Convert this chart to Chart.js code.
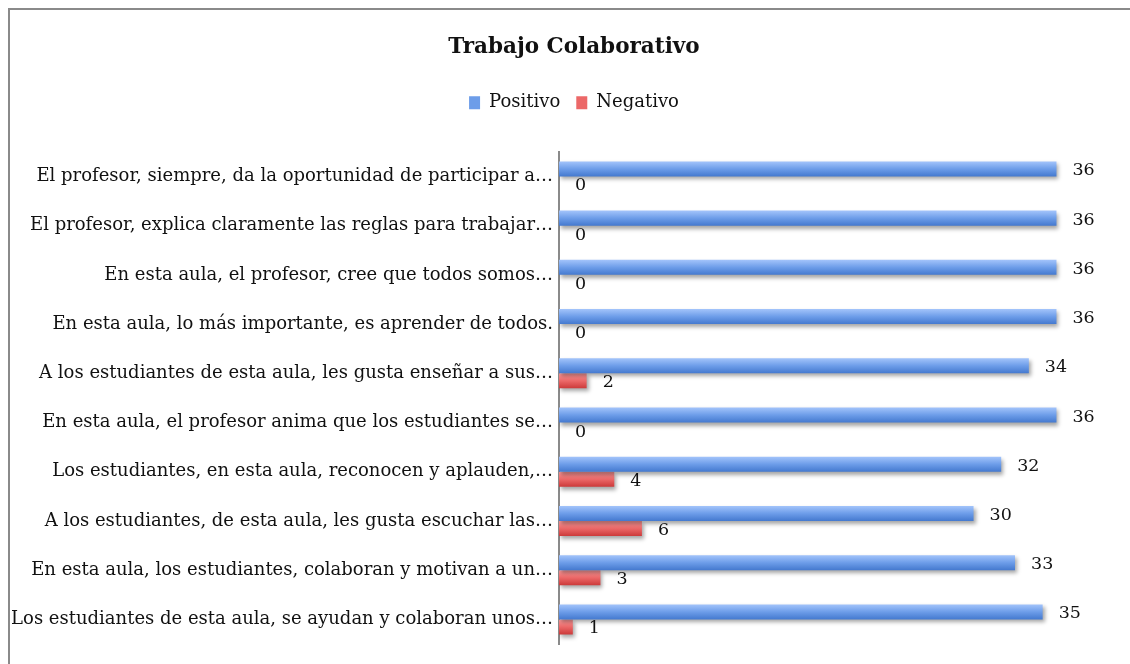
<!DOCTYPE html>
<html lang="es">
<head>
    <meta charset="UTF-8">
    <title>Trabajo Colaborativo</title>
    <script src="https://cdn.jsdelivr.net/npm/chart.js"></script>
    <style>
        html, body {
            margin: 0;
            padding: 0;
            background: #fff;
            overflow: hidden;
        }
        .frame {
            position: absolute;
            left: 8px;
            top: 8px;
            width: 1140px;
            height: 700px;
            border: 2px solid #8a8a8a;
        }
        .chart-box {
            position: relative;
            width: 1128px;
            height: 654px;
        }
    </style>
</head>
<body>
    <div class="frame">
        <div class="chart-box">
            <canvas id="chart"></canvas>
        </div>
    </div>

    <script>
        // Chart data
        const categories = [
            'El profesor, siempre, da la oportunidad de participar a…',
            'El profesor, explica claramente las reglas para trabajar…',
            'En esta aula, el profesor, cree que todos somos…',
            'En esta aula, lo más importante, es aprender de todos.',
            'A los estudiantes de esta aula, les gusta enseñar a sus…',
            'En esta aula, el profesor anima que los estudiantes se…',
            'Los estudiantes, en esta aula, reconocen y aplauden,…',
            'A los estudiantes, de esta aula, les gusta escuchar las…',
            'En esta aula, los estudiantes, colaboran y motivan a un…',
            'Los estudiantes de esta aula, se ayudan y colaboran unos…'
        ];
        const positivo = [36, 36, 36, 36, 34, 36, 32, 30, 33, 35];
        const negativo = [0, 0, 0, 0, 2, 0, 4, 6, 3, 1];

        const FONT = "'DejaVu Serif', serif";

        // gradient stops per series (top -> bottom of each bar)
        const gradStops = [
            ['#a3c4fb', '#6d9de9', '#4479cf'],
            ['#ff9d9d', '#ec6868', '#cc3a3a']
        ];

        // Give every bar its own vertical gradient and a soft drop shadow
        const barLook = {
            id: 'barLook',
            beforeDatasetsDraw(chart) {
                const ctx = chart.ctx;
                chart.data.datasets.forEach((ds, i) => {
                    chart.getDatasetMeta(i).data.forEach(el => {
                        const { y, height } = el.getProps(['y', 'height'], true);
                        const g = ctx.createLinearGradient(0, y - height / 2, 0, y + height / 2);
                        g.addColorStop(0, gradStops[i][0]);
                        g.addColorStop(0.5, gradStops[i][1]);
                        g.addColorStop(1, gradStops[i][2]);
                        el.options = Object.assign({}, el.options, { backgroundColor: g });
                    });
                });
            },
            beforeDatasetDraw(chart) {
                const ctx = chart.ctx;
                ctx.save();
                ctx.shadowColor = 'rgba(0,0,0,0.35)';
                ctx.shadowBlur = 4;
                ctx.shadowOffsetX = 2;
                ctx.shadowOffsetY = 3;
            },
            afterDatasetDraw(chart) {
                chart.ctx.restore();
            }
        };

        // Value labels to the right of each bar
        const valueLabels = {
            id: 'valueLabels',
            afterDatasetsDraw(chart) {
                const ctx = chart.ctx;
                ctx.save();
                ctx.font = '17.5px ' + FONT;
                ctx.fillStyle = '#111';
                ctx.textAlign = 'left';
                ctx.textBaseline = 'middle';
                chart.data.datasets.forEach((ds, i) => {
                    chart.getDatasetMeta(i).data.forEach((el, j) => {
                        const { x, y } = el.getProps(['x', 'y'], true);
                        ctx.fillText(String(ds.data[j]), x + 16, y + 2);
                    });
                });
                ctx.restore();
            }
        };

        // Extra space between the legend and the plot
        const legendGap = {
            id: 'legendGap',
            beforeInit(chart) {
                const fit = chart.legend.fit;
                chart.legend.fit = function () {
                    fit.bind(chart.legend)();
                    this.height += 30;
                };
            }
        };

        new Chart(document.getElementById('chart'), {
            type: 'bar',
            data: {
                labels: categories,
                datasets: [
                    {
                        label: 'Positivo',
                        data: positivo,
                        backgroundColor: '#6d9de9'
                    },
                    {
                        label: 'Negativo',
                        data: negativo,
                        backgroundColor: '#ec6868'
                    }
                ]
            },
            options: {
                indexAxis: 'y',
                responsive: true,
                maintainAspectRatio: false,
                animation: false,
                categoryPercentage: 0.61,
                barPercentage: 1.0,
                layout: {
                    padding: { top: 0, right: 0, bottom: 20, left: 0 }
                },
                scales: {
                    x: {
                        display: false,
                        min: 0,
                        max: 41.9
                    },
                    y: {
                        grid: { display: false, drawTicks: false },
                        border: { display: true, color: '#8a8a8a', width: 2 },
                        ticks: {
                            color: '#111',
                            padding: 6,
                            autoSkip: false,
                            font: { family: FONT, size: 18 }
                        },
                        afterFit(scale) {
                            scale.width = 549;
                        }
                    }
                },
                plugins: {
                    title: {
                        display: true,
                        text: 'Trabajo Colaborativo',
                        color: '#111',
                        font: { family: FONT, size: 21.5, weight: 'bold' },
                        padding: { top: 25, bottom: 17 }
                    },
                    legend: {
                        position: 'top',
                        labels: {
                            color: '#111',
                            boxWidth: 11,
                            boxHeight: 13,
                            padding: 16,
                            font: { family: FONT, size: 18 }
                        }
                    },
                    tooltip: { enabled: false }
                }
            },
            plugins: [barLook, valueLabels, legendGap]
        });
    </script>
</body>
</html>
